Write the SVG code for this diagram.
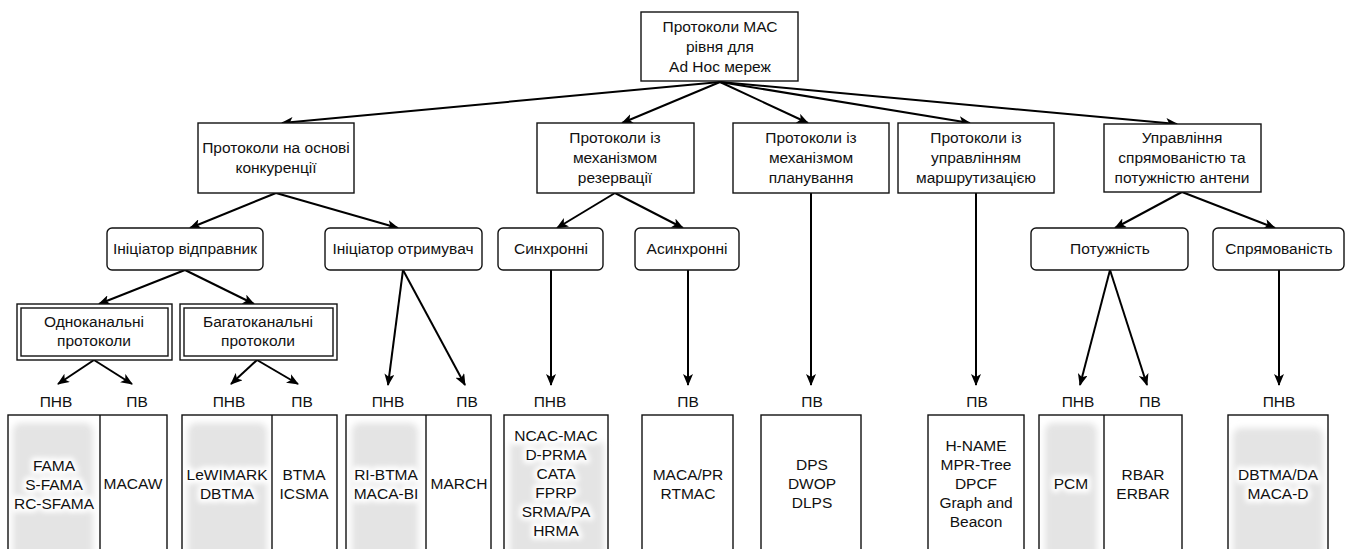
<svg xmlns="http://www.w3.org/2000/svg" width="1351" height="549" viewBox="0 0 1351 549">
<style>
text{font-family:"Liberation Sans",Arial,sans-serif;fill:#111;text-anchor:middle}
.n{font-size:15.5px}
.c{font-size:15.5px}
.box{fill:#fff;stroke:#111;stroke-width:1.4}
.cell{fill:none;stroke:#111;stroke-width:1.4}
.shade{fill:#e4e4e4;filter:url(#soft)}
.e{fill:none;stroke:#000;stroke-width:2;marker-end:url(#arr)}
.glow text{fill:#fff;stroke:#fff;stroke-width:7;stroke-linejoin:round}
.glow{filter:url(#blur2)}
</style>
<defs>
<marker id="arr" viewBox="0 0 12 10" refX="11" refY="5" markerWidth="12" markerHeight="10" markerUnits="userSpaceOnUse" orient="auto"><path d="M0,0 L12,5 L0,10 L3,5 z" fill="#000"/></marker>
<filter id="soft" x="-20%" y="-20%" width="140%" height="140%"><feGaussianBlur stdDeviation="3"/></filter>
<filter id="blur2" x="-30%" y="-30%" width="160%" height="160%"><feGaussianBlur stdDeviation="2.5"/></filter>
</defs>
<rect width="1351" height="549" fill="#fff"/>

<g id="connectors">
<path class="e" d="M720,82 L282,123"/>
<path class="e" d="M720,82 L622,123"/>
<path class="e" d="M720,82 L808,123"/>
<path class="e" d="M720,82 L970,123"/>
<path class="e" d="M720,82 L1177,124"/>
<path class="e" d="M276,193 L190,228"/>
<path class="e" d="M276,193 L398,228"/>
<path class="e" d="M615,193 L557,228"/>
<path class="e" d="M615,193 L683,228"/>
<path class="e" d="M1182,192 L1115,228"/>
<path class="e" d="M1182,192 L1275,228"/>
<path class="e" d="M811,193 L811,385"/>
<path class="e" d="M976,193 L976,385"/>
<path class="e" d="M551,270 L551,385"/>
<path class="e" d="M688,270 L688,385"/>
<path class="e" d="M1279,270 L1279,385"/>
<path class="e" d="M1110,270 L1080,385"/>
<path class="e" d="M1110,270 L1147,385"/>
<path class="e" d="M403,270 L388,385"/>
<path class="e" d="M403,270 L465,385"/>
<path class="e" d="M185,270 L99,304"/>
<path class="e" d="M185,270 L254,304"/>
<path class="e" d="M94,360 L58,384"/>
<path class="e" d="M94,360 L132,384"/>
<path class="e" d="M257,360 L231,384"/>
<path class="e" d="M257,360 L298,384"/>
</g>

<g id="root">
<rect class="box" x="641" y="12" width="157" height="69"/>
<text class="n" x="720" y="32">Протоколи МАС</text>
<text class="n" x="720" y="52">рівня для</text>
<text class="n" x="720" y="72">Ad Hoc мереж</text>
</g>

<g id="contention">
<rect class="box" x="198" y="123" width="156" height="70"/>
<text class="n" x="276" y="153">Протоколи на основі</text>
<text class="n" x="276" y="173">конкуренції</text>
</g>
<g id="reservation">
<rect class="box" x="537" y="123" width="157" height="70"/>
<text class="n" x="615" y="143">Протоколи із</text>
<text class="n" x="615" y="163">механізмом</text>
<text class="n" x="615" y="183">резервації</text>
</g>
<g id="scheduling">
<rect class="box" x="733" y="123" width="156" height="70"/>
<text class="n" x="811" y="143">Протоколи із</text>
<text class="n" x="811" y="163">механізмом</text>
<text class="n" x="811" y="183">планування</text>
</g>
<g id="routing">
<rect class="box" x="898" y="123" width="156" height="70"/>
<text class="n" x="976" y="143">Протоколи із</text>
<text class="n" x="976" y="163">управлінням</text>
<text class="n" x="976" y="183">маршрутизацією</text>
</g>
<g id="antenna">
<rect class="box" x="1104" y="124" width="157" height="68"/>
<text class="n" x="1182" y="143">Управління</text>
<text class="n" x="1182" y="163">спрямованістю та</text>
<text class="n" x="1182" y="183">потужністю антени</text>
</g>

<g id="sender">
<rect class="box" x="107" y="228" width="156" height="42" rx="5"/>
<text class="n" x="185" y="254">Ініціатор відправник</text>
</g>
<g id="receiver">
<rect class="box" x="325" y="228" width="157" height="42" rx="5"/>
<text class="n" x="403" y="254">Ініціатор отримувач</text>
</g>
<g id="sync">
<rect class="box" x="498" y="228" width="105" height="42" rx="5"/>
<text class="n" x="551" y="254">Синхронні</text>
</g>
<g id="async">
<rect class="box" x="635" y="228" width="104" height="42" rx="5"/>
<text class="n" x="687" y="254">Асинхронні</text>
</g>
<g id="power">
<rect class="box" x="1031" y="228" width="157" height="42" rx="5"/>
<text class="n" x="1110" y="254">Потужність</text>
</g>
<g id="direction">
<rect class="box" x="1213" y="228" width="131" height="42" rx="5"/>
<text class="n" x="1279" y="254">Спрямованість</text>
</g>

<g id="single">
<rect class="box" x="17" y="304" width="155" height="56"/>
<rect class="cell" x="21" y="308" width="147" height="48"/>
<text class="n" x="94" y="327">Одноканальні</text>
<text class="n" x="94" y="346">протоколи</text>
</g>
<g id="multi">
<rect class="box" x="180" y="304" width="157" height="56"/>
<rect class="cell" x="184" y="308" width="149" height="48"/>
<text class="n" x="258" y="327">Багатоканальні</text>
<text class="n" x="258" y="346">протоколи</text>
</g>

<g id="labels">
<text class="n" x="56" y="407">ПНВ</text>
<text class="n" x="137" y="407">ПВ</text>
<text class="n" x="229" y="407">ПНВ</text>
<text class="n" x="302" y="407">ПВ</text>
<text class="n" x="388" y="407">ПНВ</text>
<text class="n" x="467" y="407">ПВ</text>
<text class="n" x="550" y="407">ПНВ</text>
<text class="n" x="688" y="407">ПВ</text>
<text class="n" x="812" y="407">ПВ</text>
<text class="n" x="977" y="407">ПВ</text>
<text class="n" x="1078" y="407">ПНВ</text>
<text class="n" x="1150" y="407">ПВ</text>
<text class="n" x="1279" y="407">ПНВ</text>
</g>

<g id="cell1">
<rect class="shade" x="13" y="423" width="80" height="140" rx="8"/>
<g class="glow" aria-hidden="true"><text class="c" x="54" y="471">FAMA</text><text class="c" x="54" y="490">S-FAMA</text><text class="c" x="54" y="509">RC-SFAMA</text></g>
<rect class="cell" x="8" y="415" width="159" height="150"/>
<line class="cell" x1="100" y1="415" x2="100" y2="565"/>
<text class="c" x="54" y="471">FAMA</text><text class="c" x="54" y="490">S-FAMA</text><text class="c" x="54" y="509">RC-SFAMA</text>
<text class="c" x="133" y="489">MACAW</text>
</g>
<g id="cell2">
<rect class="shade" x="188" y="423" width="79" height="140" rx="8"/>
<g class="glow" aria-hidden="true"><text class="c" x="227" y="480">LeWIMARK</text><text class="c" x="227" y="499">DBTMA</text></g>
<rect class="cell" x="182" y="415" width="155" height="150"/>
<line class="cell" x1="272" y1="415" x2="272" y2="565"/>
<text class="c" x="227" y="480">LeWIMARK</text><text class="c" x="227" y="499">DBTMA</text>
<text class="c" x="304" y="480">BTMA</text><text class="c" x="304" y="499">ICSMA</text>
</g>
<g id="cell3">
<rect class="shade" x="352" y="423" width="66" height="140" rx="8"/>
<g class="glow" aria-hidden="true"><text class="c" x="386" y="480">RI-BTMA</text><text class="c" x="386" y="499">MACA-BI</text></g>
<rect class="cell" x="346" y="415" width="145" height="150"/>
<line class="cell" x1="426" y1="415" x2="426" y2="565"/>
<text class="c" x="386" y="480">RI-BTMA</text><text class="c" x="386" y="499">MACA-BI</text>
<text class="c" x="459" y="489">MARCH</text>
</g>
<g id="cell4">
<rect class="shade" x="510" y="440" width="94" height="125" rx="8"/>
<g class="glow" aria-hidden="true"><text class="c" x="556" y="441">NCAC-MAC</text><text class="c" x="556" y="460">D-PRMA</text><text class="c" x="556" y="479">CATA</text><text class="c" x="556" y="498">FPRP</text><text class="c" x="556" y="517">SRMA/PA</text><text class="c" x="556" y="536">HRMA</text></g>
<rect class="cell" x="504" y="415" width="104" height="150"/>
<text class="c" x="556" y="441">NCAC-MAC</text><text class="c" x="556" y="460">D-PRMA</text><text class="c" x="556" y="479">CATA</text><text class="c" x="556" y="498">FPRP</text><text class="c" x="556" y="517">SRMA/PA</text><text class="c" x="556" y="536">HRMA</text>
</g>
<g id="cell5">
<rect class="cell" x="642" y="415" width="91" height="150"/>
<text class="c" x="688" y="480">MACA/PR</text><text class="c" x="688" y="499">RTMAC</text>
</g>
<g id="cell6">
<rect class="cell" x="761" y="415" width="100" height="150"/>
<text class="c" x="812" y="470">DPS</text><text class="c" x="812" y="489">DWOP</text><text class="c" x="812" y="508">DLPS</text>
</g>
<g id="cell7">
<rect class="cell" x="928" y="415" width="96" height="150"/>
<text class="c" x="976" y="451">H-NAME</text><text class="c" x="976" y="470">MPR-Tree</text><text class="c" x="976" y="489">DPCF</text><text class="c" x="976" y="508">Graph and</text><text class="c" x="976" y="527">Beacon</text>
</g>
<g id="cell8">
<rect class="shade" x="1045" y="423" width="52" height="140" rx="8"/>
<g class="glow" aria-hidden="true"><text class="c" x="1071" y="489">PCM</text></g>
<rect class="cell" x="1039" y="415" width="143" height="150"/>
<line class="cell" x1="1104" y1="415" x2="1104" y2="565"/>
<text class="c" x="1071" y="489">PCM</text>
<text class="c" x="1143" y="480">RBAR</text><text class="c" x="1143" y="499">ERBAR</text>
</g>
<g id="cell9">
<rect class="shade" x="1233" y="428" width="90" height="135" rx="8"/>
<g class="glow" aria-hidden="true"><text class="c" x="1278" y="480">DBTMA/DA</text><text class="c" x="1278" y="499">MACA-D</text></g>
<rect class="cell" x="1228" y="415" width="100" height="150"/>
<text class="c" x="1278" y="480">DBTMA/DA</text><text class="c" x="1278" y="499">MACA-D</text>
</g>
</svg>
